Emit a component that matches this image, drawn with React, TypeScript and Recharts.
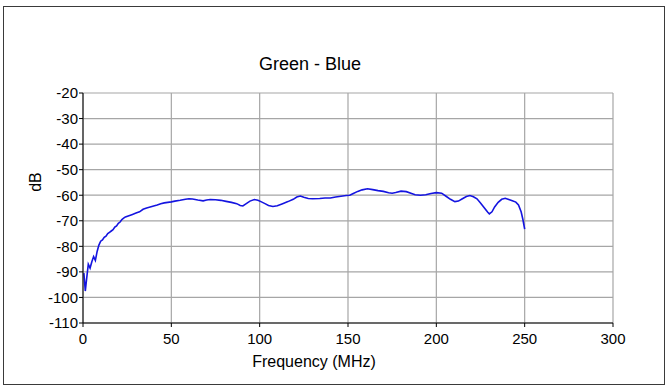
import React from 'react';
import { LineChart, Line, XAxis, YAxis, CartesianGrid } from 'recharts';

const freqMHz: number[] = [
  0.5, 1.3, 2, 3, 4, 5, 6, 7, 8, 9, 10, 11, 12, 13, 14, 15, 16, 17, 18, 19, 20, 21, 22, 23, 24,
  26, 28, 30, 32, 34, 36, 38, 40, 42, 44, 46, 48, 50, 52, 55, 58, 60, 62, 65, 68, 70, 72, 75, 78,
  81, 84, 87, 89, 90.5, 92, 94.5, 97, 99, 101, 103, 105, 107.5, 110, 113, 116, 119, 121, 123, 125,
  127.5, 130, 134, 137, 140, 143, 146, 149, 151, 153, 155.5, 158, 161, 164, 167, 170, 173, 175, 177,
  180, 183, 186, 188, 191, 194, 197, 200, 203, 205.5, 208, 210.5, 212.5, 214.5, 217, 219, 221, 223,
  225, 227, 229, 230, 231.5, 233, 235, 237, 239, 241, 243, 245, 246.5, 248, 249, 250,
];

const greenBlueDb: number[] = [
  -90.5, -97.5, -93, -87, -88.5, -86, -84, -85.5, -82, -79.5, -78, -77.5, -76.5, -76, -75, -74.5,
  -74, -73.5, -72.5, -72, -71, -70.5, -69.5, -69, -68.5,
  -68, -67.5, -67, -66.5, -65.5, -65, -64.6, -64.2, -63.8, -63.3, -63, -62.8, -62.6, -62.3, -62,
  -61.6, -61.4, -61.5, -61.9, -62.2, -61.9, -61.7, -61.8, -62,
  -62.4, -62.8, -63.3, -64, -64.2, -63.5, -62.3, -61.7, -62, -62.6, -63.3, -64, -64.4, -64.1, -63.3,
  -62.5, -61.6, -60.7, -60.3, -60.8,
  -61.3, -61.4, -61.3, -61.1, -61.1, -60.7, -60.4, -60.1, -60, -59.3, -58.5, -57.9, -57.5, -57.8,
  -58.2, -58.5, -59, -59.2, -58.9,
  -58.4, -58.6, -59.3, -59.8, -60, -59.8, -59.3, -59, -59.2, -60.4, -61.6, -62.5, -62.3, -61.5,
  -60.5, -60.1, -60.6, -61.4,
  -63, -64.8, -66.6, -67.3, -66.5, -64.6, -62.8, -61.6, -61.2, -61.7, -62.2, -62.7, -63.8, -66.5,
  -69.5, -73.3,
];

const xTicks: number[] = [0, 50, 100, 150, 200, 250, 300];
const yTicks: number[] = [-110, -100, -90, -80, -70, -60, -50, -40, -30, -20];

const chartTitle = 'Green - Blue';
const xLabel = 'Frequency (MHz)';
const yLabel = 'dB';

const data = freqMHz.map((f, i) => ({ f, db: greenBlueDb[i] }));

const FONT = '"Liberation Sans", Arial, sans-serif';

export default function App() {
  return (
    <div style={{ position: 'absolute', left: 0, top: 0, width: 667, height: 386, background: '#fff' }}>
      <LineChart
        width={667}
        height={386}
        data={data}
        margin={{ top: 93, right: 54, bottom: 23, left: 43 }}
      >
        <CartesianGrid stroke="#a6a6a6" strokeWidth={1.2} />
        <XAxis
          dataKey="f"
          type="number"
          domain={[0, 300]}
          ticks={xTicks}
          interval={0}
          stroke="#000"
          tickSize={4}
          tickMargin={6}
          tick={{ fill: '#000', fontSize: 15, fontFamily: FONT }}
          height={40}
        />
        <YAxis
          type="number"
          domain={[-110, -20]}
          ticks={yTicks}
          interval={0}
          stroke="#000"
          width={40}
          tickSize={4}
          tickMargin={1}
          tick={{ fill: '#000', fontSize: 15, fontFamily: FONT }}
        />
        <Line
          type="linear"
          dataKey="db"
          stroke="#1414e0"
          strokeWidth={1.6}
          dot={false}
          isAnimationActive={false}
        />
      </LineChart>
      <svg
        width={667}
        height={386}
        style={{ position: 'absolute', left: 0, top: 0, pointerEvents: 'none' }}
      >
        <rect x={3.5} y={6.5} width={661} height={378} fill="none" stroke="#3a3a3a" strokeWidth={1} />
        <text x={310} y={70} textAnchor="middle" fontSize={18} fontFamily={FONT} fill="#000">
          {chartTitle}
        </text>
        <text x={314} y={367} textAnchor="middle" fontSize={16} fontFamily={FONT} fill="#000">
          {xLabel}
        </text>
        <text
          x={0}
          y={0}
          transform="translate(41,182) rotate(-90)"
          textAnchor="middle"
          fontSize={16}
          fontFamily={FONT}
          fill="#000"
        >
          {yLabel}
        </text>
      </svg>
    </div>
  );
}
